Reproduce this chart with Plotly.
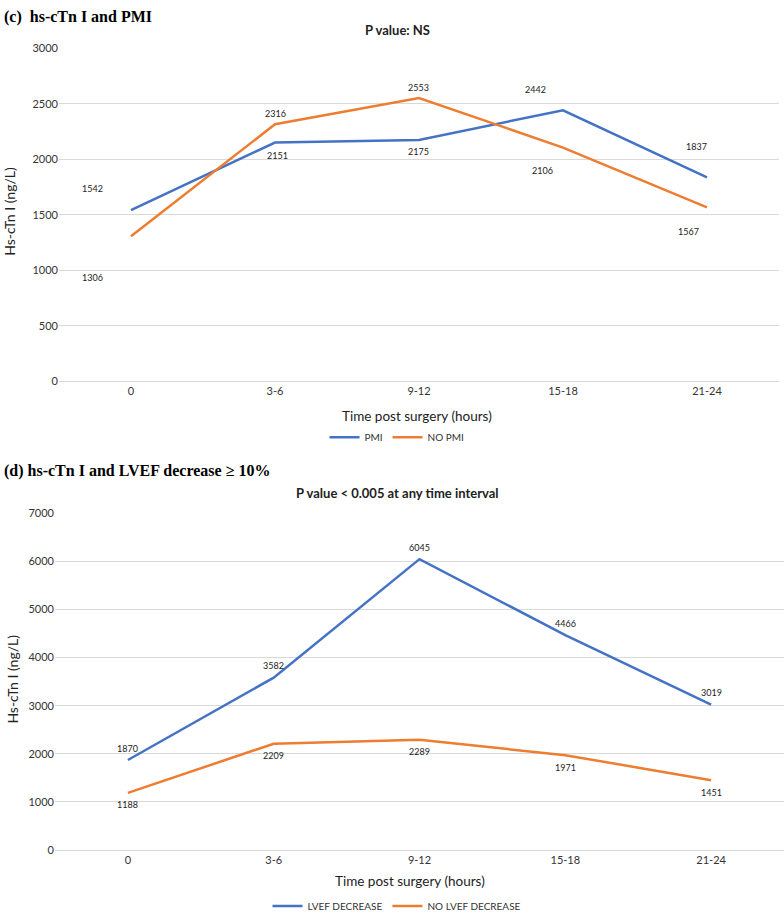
import plotly.graph_objects as go

# ---------------- data ----------------
time_labels = ["0", "3-6", "9-12", "15-18", "21-24"]

pmi = [1542, 2151, 2175, 2442, 1837]
no_pmi = [1306, 2316, 2553, 2106, 1567]

lvef_decrease = [1870, 3582, 6045, 4466, 3019]
no_lvef_decrease = [1188, 2209, 2289, 1971, 1451]

# ---------------- styles ----------------
BLUE = "#4472C4"
ORANGE = "#ED7D31"
GRID = "#D9D9D9"
SANS = "Lato, Calibri, Carlito, sans-serif"
SERIF = "Liberation Serif, Times New Roman, serif"
W, H = 784, 921

# label offsets (px, x right / y down) – styling only
off_pmi = [(-39, -22), (2, 13), (-1, 12), (-28, -21), (-11, -31)]
off_no_pmi = [(-39, 41), (0, -11), (-1, -10), (-21, 23), (-19, 24)]
off_lvef = [(0, -12)] * 5
off_no_lvef = [(0, 12)] * 5

fig = go.Figure()

fig.add_trace(go.Scatter(x=time_labels, y=pmi, name="PMI", mode="lines",
                         line=dict(color=BLUE, width=2.5), xaxis="x", yaxis="y",
                         legend="legend"))
fig.add_trace(go.Scatter(x=time_labels, y=no_pmi, name="NO PMI", mode="lines",
                         line=dict(color=ORANGE, width=2.5), xaxis="x", yaxis="y",
                         legend="legend"))
fig.add_trace(go.Scatter(x=time_labels, y=lvef_decrease, name="LVEF DECREASE", mode="lines",
                         line=dict(color=BLUE, width=2.5), xaxis="x2", yaxis="y2",
                         legend="legend2"))
fig.add_trace(go.Scatter(x=time_labels, y=no_lvef_decrease, name="NO LVEF DECREASE", mode="lines",
                         line=dict(color=ORANGE, width=2.5), xaxis="x2", yaxis="y2",
                         legend="legend2"))

annotations = []


def add_labels(values, offsets, xref, yref, size):
    for cat, v, (dx, dy) in zip(time_labels, values, offsets):
        annotations.append(dict(x=cat, y=v, xref=xref, yref=yref, text=str(v),
                                showarrow=False, xshift=dx, yshift=-dy,
                                font=dict(family=SANS, size=size, color="#222222")))


add_labels(pmi, off_pmi, "x", "y", 9)
add_labels(no_pmi, off_no_pmi, "x", "y", 9)
add_labels(lvef_decrease, off_lvef, "x2", "y2", 9)
add_labels(no_lvef_decrease, off_no_lvef, "x2", "y2", 9)


def px_y(py):
    return 1 - py / H


def px_x(px):
    return px / W


# panel titles
annotations += [
    dict(text="<b>(c)  hs-cTn I and PMI</b>", x=px_x(2), y=px_y(10), xref="paper", yref="paper",
         xanchor="left", yanchor="middle", showarrow=False,
         font=dict(family=SERIF, size=16, color="black")),
    dict(text="<b>(d) hs-cTn I and LVEF decrease ≥ 10%</b>", x=px_x(2), y=px_y(471), xref="paper",
         yref="paper", xanchor="left", yanchor="middle", showarrow=False,
         font=dict(family=SERIF, size=16, color="black")),
    dict(text="<b>P value: NS</b>", x=px_x(397), y=px_y(23), xref="paper", yref="paper",
         xanchor="center", yanchor="middle", showarrow=False,
         font=dict(family=SANS, size=13, color="#222222")),
    dict(text="<b>P value < 0.005 at any time interval</b>", x=px_x(397), y=px_y(494),
         xref="paper", yref="paper", xanchor="center", yanchor="middle", showarrow=False,
         font=dict(family=SANS, size=13, color="#222222")),
    # axis titles
    dict(text="Time post surgery (hours)", x=px_x(417), y=px_y(415), xref="paper", yref="paper",
         xanchor="center", yanchor="middle", showarrow=False,
         font=dict(family=SANS, size=13.5, color="#222222")),
    dict(text="Time post surgery (hours)", x=px_x(410), y=px_y(887), xref="paper", yref="paper",
         xanchor="center", yanchor="middle", showarrow=False,
         font=dict(family=SANS, size=13.5, color="#222222")),
    dict(text="Hs-cTn I (ng/L)", x=px_x(10), y=px_y(208), xref="paper", yref="paper",
         xanchor="center", yanchor="middle", textangle=-90, showarrow=False,
         font=dict(family=SANS, size=14, color="#222222")),
    dict(text="Hs-cTn I (ng/L)", x=px_x(13), y=px_y(683), xref="paper", yref="paper",
         xanchor="center", yanchor="middle", textangle=-90, showarrow=False,
         font=dict(family=SANS, size=14, color="#222222")),
]

axis_common = dict(showgrid=True, gridcolor=GRID, gridwidth=1, zeroline=True,
                   zerolinecolor=GRID, zerolinewidth=1, ticks="",
                   tickfont=dict(family=SANS, size=11, color="#333333"))

fig.update_layout(
    width=W, height=H,
    margin=dict(l=0, r=0, t=0, b=0),
    paper_bgcolor="white", plot_bgcolor="white",
    showlegend=True,
    xaxis=dict(type="category", domain=[px_x(59), px_x(779)], range=[-0.5, 4.5],
               anchor="y", showgrid=False, showline=True, linecolor=GRID,
               tickfont=dict(family=SANS, size=11, color="#333333"), ticks=""),
    yaxis=dict(domain=[px_y(380), px_y(42)], range=[0, 3000], dtick=500, anchor="x",
               **axis_common),
    xaxis2=dict(type="category", domain=[px_x(55), 1.0], range=[-0.5, 4.5],
                anchor="y2", showgrid=False, showline=True, linecolor=GRID,
                tickfont=dict(family=SANS, size=11, color="#333333"), ticks=""),
    yaxis2=dict(domain=[px_y(856), px_y(514)], range=[0, 7000], dtick=1000, anchor="x2",
                **axis_common),
    legend=dict(orientation="h", x=px_x(397), y=px_y(437), xanchor="center", yanchor="middle",
                font=dict(family=SANS, size=10, color="#333333"), itemwidth=30,
                bgcolor="rgba(0,0,0,0)"),
    legend2=dict(orientation="h", x=px_x(397), y=px_y(913), xanchor="center", yanchor="middle",
                 font=dict(family=SANS, size=10, color="#333333"), itemwidth=30,
                 bgcolor="rgba(0,0,0,0)"),
    annotations=annotations,
)

fig.write_html(
    "out.html",
    config={"displayModeBar": False},
    post_script="document.body.style.margin='0';document.body.style.overflow='hidden';",
)
